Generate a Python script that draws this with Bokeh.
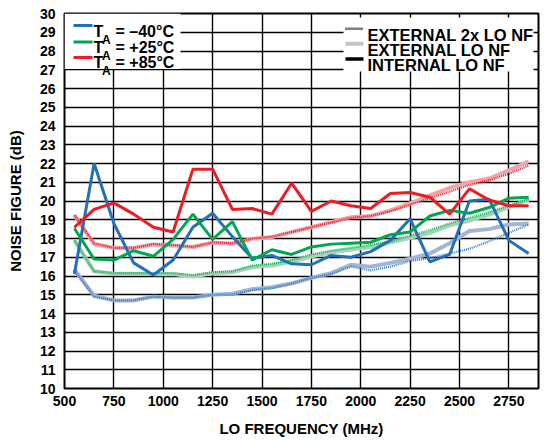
import math
from bokeh.plotting import figure
from bokeh.models import Label, FixedTicker, Range1d, BoxAnnotation, Arrow
from bokeh.embed import file_html
from bokeh.resources import INLINE

# ---------------- data ----------------
freq = [550, 650, 750, 850, 950, 1050, 1150, 1250, 1350, 1450, 1550, 1650,
        1750, 1850, 1950, 2050, 2150, 2250, 2350, 2450, 2550, 2650, 2750, 2850]

# T_A = -40 C
int_m40 = [16.1, 22.0, 18.8, 16.7, 16.05, 16.85, 18.6, 19.35, 18.1, 16.95, 17.1, 16.65,
           16.6, 17.1, 17.0, 17.3, 17.9, 19.05, 16.75, 17.15, 20.0, 20.1, 17.9, 17.2]
ext_m40 = [16.35, 14.95, 14.7, 14.7, 14.9, 14.85, 14.85, 15.0, 15.05, 15.3, 15.4, 15.6,
           15.9, 16.15, 16.6, 16.5, 16.7, 16.92, 17.2, 17.75, 18.4, 18.5, 18.75, 18.8]
ext2x_m40 = [16.3, 14.9, 14.7, 14.7, 14.9, 14.85, 14.85, 15.0, 15.0, 15.25, 15.35, 15.6,
             15.9, 16.1, 16.5, 16.3, 16.5, 16.8, 16.95, 17.2, 17.45, 17.85, 18.3, 18.75]
# T_A = +25 C
int_25 = [18.55, 16.9, 16.85, 17.35, 17.05, 17.95, 19.3, 17.95, 18.9, 16.85, 17.4, 17.15,
          17.55, 17.7, 17.75, 17.8, 18.2, 18.35, 19.2, 19.5, 19.35, 19.65, 20.15, 20.2]
ext_25 = [17.9, 16.25, 16.12, 16.12, 16.1, 16.1, 15.97, 16.15, 16.2, 16.47, 16.56, 16.77,
          17.04, 17.27, 17.41, 17.54, 17.8, 18.04, 18.3, 18.7, 18.96, 19.28, 19.67, 20.06]
ext2x_25 = [17.9, 16.25, 16.15, 16.15, 16.15, 16.15, 16.05, 16.2, 16.25, 16.55, 16.65, 16.85,
            17.15, 17.35, 17.5, 17.65, 17.85, 18.15, 18.45, 18.8, 19.1, 19.4, 19.75, 20.1]
# T_A = +85 C
int_85 = [18.6, 19.55, 19.9, 19.3, 18.6, 18.35, 21.7, 21.7, 19.55, 19.6, 19.3, 20.95,
          19.45, 20.0, 19.75, 19.6, 20.4, 20.45, 20.2, 19.3, 20.65, 20.05, 19.75, 19.75]
ext_85 = [19.25, 17.7, 17.5, 17.5, 17.68, 17.63, 17.55, 17.77, 17.72, 17.98, 18.07, 18.34,
          18.6, 18.87, 19.14, 19.2, 19.5, 19.88, 20.3, 20.7, 21.0, 21.2, 21.63, 22.12]
ext2x_85 = [19.25, 17.75, 17.5, 17.5, 17.7, 17.65, 17.55, 17.8, 17.75, 18.0, 18.1, 18.35,
            18.6, 18.85, 19.1, 19.2, 19.45, 19.8, 20.15, 20.5, 20.85, 21.1, 21.45, 21.9]

x_ticks = [500, 750, 1000, 1250, 1500, 1750, 2000, 2250, 2500, 2750]
y_ticks = list(range(10, 31))

temp_names = ["= \u201340\u00b0C", "= +25\u00b0C", "= +85\u00b0C"]
type_names = ["EXTERNAL 2x LO NF", "EXTERNAL LO NF", "INTERNAL LO NF"]

# ---------------- styles / layout ----------------
FONT = "Liberation Sans"
solid_col = ["#2470b8", "#00a651", "#ed1c24"]
light_col = ["#a3b4d5", "#a2d3b6", "#f4a3ad"]
dot_col = ["#2f7fcc", "#1cb45a", "#ed1c24"]

FL, FR, FT, FB = 64, 538, 13, 388          # frame edges in page pixels
XMIN, XMAX, YMIN, YMAX = 500, 2900, 10, 30


def px_x(px):
    return XMIN + (px - FL) * (XMAX - XMIN) / (FR - FL)


def px_y(py):
    return YMAX - (py - FT) * (YMAX - YMIN) / (FB - FT)


p = figure(width=558, height=440, output_backend="svg", toolbar_location=None,
           x_range=Range1d(XMIN, XMAX), y_range=Range1d(YMIN, YMAX),
           min_border_left=FL, min_border_right=558 - FR, min_border_top=FT,
           min_border_bottom=440 - FB)
p.background_fill_color = "white"
p.border_fill_color = "white"
p.outline_line_color = "black"
p.outline_line_width = 2

p.xaxis.ticker = FixedTicker(ticks=x_ticks)
p.yaxis.ticker = FixedTicker(ticks=y_ticks)
p.xgrid.ticker = FixedTicker(ticks=x_ticks)
p.ygrid.ticker = FixedTicker(ticks=y_ticks)
for g in (p.xgrid, p.ygrid):
    g.grid_line_color = "black"
    g.grid_line_width = 1.4
    g.grid_line_alpha = 1.0

for ax in (p.xaxis, p.yaxis):
    ax.axis_line_color = None
    ax.major_tick_line_color = None
    ax.minor_tick_line_color = None
    ax.major_tick_out = 0
    ax.major_tick_in = 0
    ax.minor_tick_out = 0
    ax.minor_tick_in = 0
    ax.major_label_text_font = FONT
    ax.major_label_text_font_style = "bold"
    ax.major_label_text_font_size = "14px"
    ax.major_label_text_color = "black"
    ax.axis_label_text_font = FONT
    ax.axis_label_text_font_style = "bold"
    ax.axis_label_text_font_size = "15px"
    ax.axis_label_text_color = "black"

p.xaxis.axis_label = "LO FREQUENCY (MHz)"
p.yaxis.axis_label = "NOISE FIGURE (dB)"
p.xaxis.major_label_standoff = 7
p.xaxis.axis_label_standoff = 11
p.yaxis.major_label_standoff = 9
p.yaxis.axis_label_standoff = 13

series = [(int_m40, ext_m40, ext2x_m40), (int_25, ext_25, ext2x_25), (int_85, ext_85, ext2x_85)]

# light (external LO) lines first, then dotted (external 2x LO), then solid (internal LO)
for i, (s_int, s_ext, s_2x) in enumerate(series):
    p.line(freq, s_ext, line_color=light_col[i], line_width=4)
for i, (s_int, s_ext, s_2x) in enumerate(series):
    p.line(freq, s_2x, line_color=dot_col[i], line_width=2.2, line_dash="1 1")
for i, (s_int, s_ext, s_2x) in enumerate(series):
    p.line(freq, s_int, line_color=solid_col[i], line_width=3)

# ---------------- legends (drawn as annotations) ----------------
p.add_layout(BoxAnnotation(left=px_x(64), right=px_x(180), bottom=px_y(68.6), top=px_y(13),
                           fill_color="white", fill_alpha=1.0, line_color=None))
p.add_layout(BoxAnnotation(left=px_x(343), right=px_x(533), bottom=px_y(71), top=px_y(17),
                           fill_color="white", fill_alpha=1.0, line_color=None))


def sample(x0, x1, y, **kw):
    p.add_layout(Arrow(end=None, start=None, x_start=px_x(x0), x_end=px_x(x1),
                       y_start=px_y(y), y_end=px_y(y), **kw))


def text(x, y, s, size, **kw):
    p.add_layout(Label(x=px_x(x), y=px_y(y), text=s, text_font=FONT, text_font_style="bold",
                       text_font_size=size, text_color="black", text_baseline="alphabetic",
                       text_align="left", level="overlay", **kw))


row1 = [25, 41.5, 57]
base1 = [30.8, 46.6, 62]
for i in range(3):
    sample(73, 92, row1[i], line_color=solid_col[i], line_width=3)
    text(93, base1[i], "T", "16px")
    text(101.5, base1[i] + 8.6, "A", "12px")
    text(115, base1[i], temp_names[i], "16px")

row2 = [28.3, 43.3, 58.5]
base2 = [34.1, 49.3, 64.8]
sample(345, 363, row2[0], line_color="black", line_width=2.5, line_dash="1 1")
sample(345, 363, row2[1], line_color="#c4c4c4", line_width=4)
sample(345, 363, row2[2], line_color="black", line_width=3.5)
for i in range(3):
    text(367, base2[i], type_names[i], "16.5px")

# figure code
p.add_layout(Label(x=px_x(553), y=px_y(439), text="11990-222", angle=math.pi / 2, text_font=FONT,
                   text_font_size="10px", text_color="#444444", level="overlay",
                   text_baseline="middle", text_align="left"))

open("out.html", "w").write(file_html(p, INLINE))
